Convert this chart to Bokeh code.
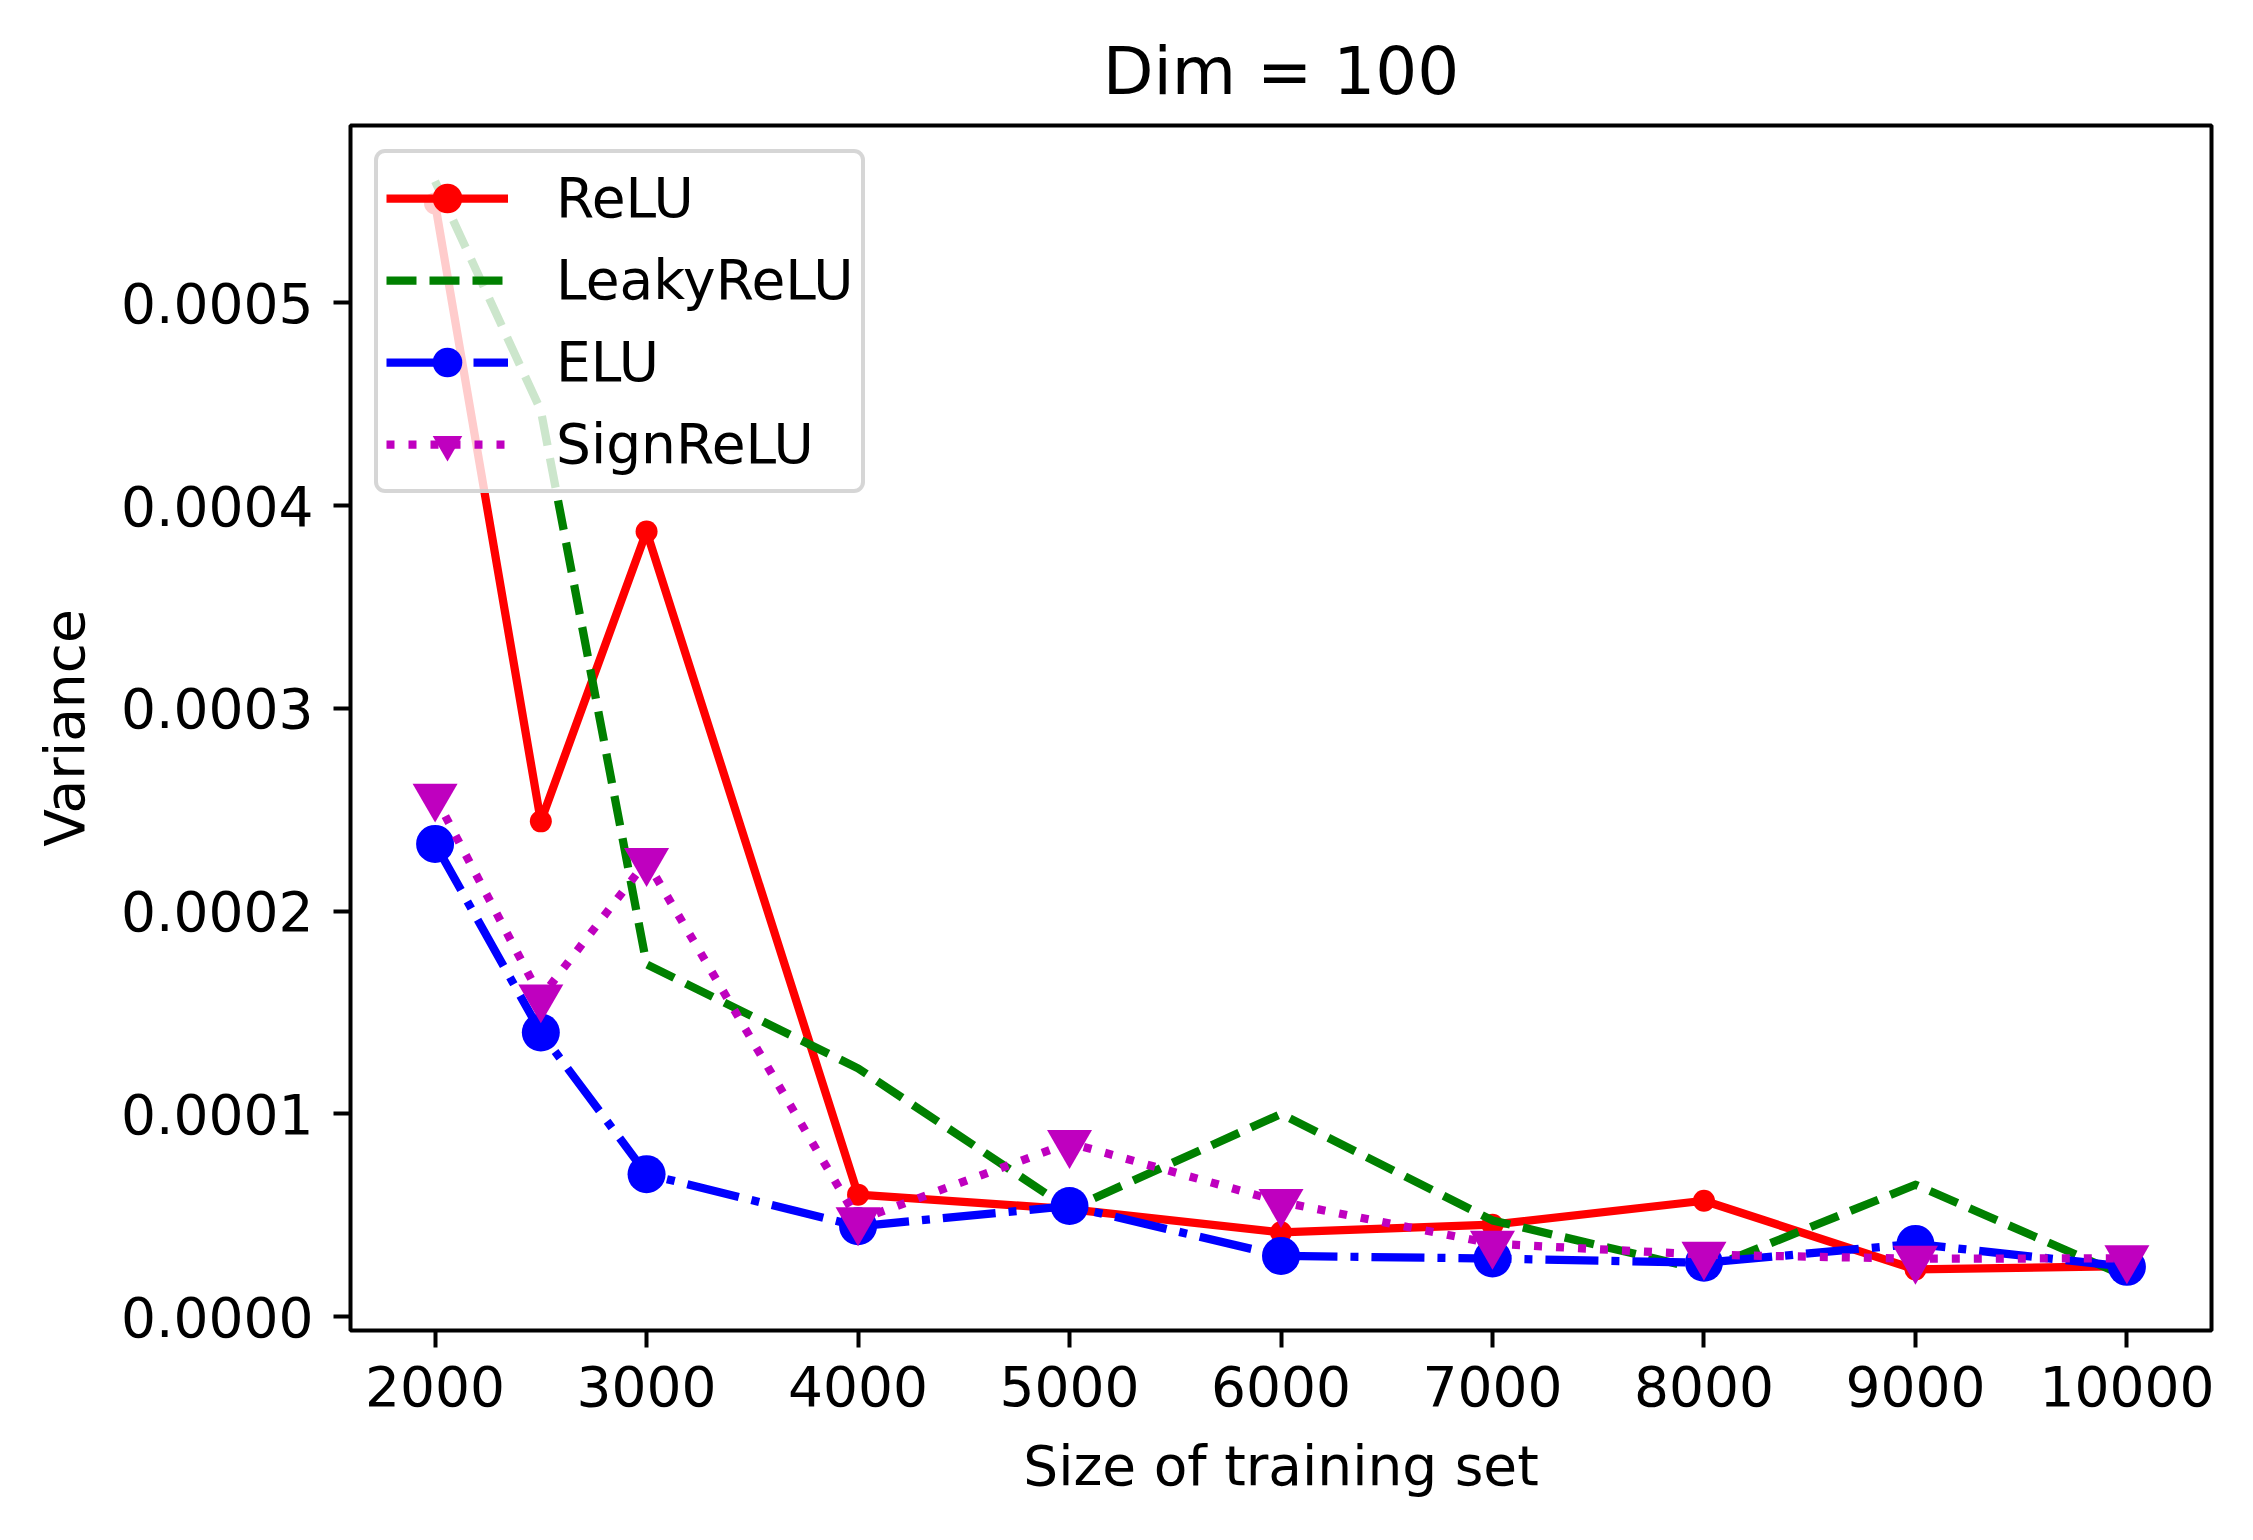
from bokeh.plotting import figure
from bokeh.models import Legend, LegendItem, FixedTicker, PrintfTickFormatter, Range1d
from bokeh.embed import file_html
from bokeh.resources import INLINE

# ---- data ----
sizes = [2000, 2500, 3000, 4000, 5000, 6000, 7000, 8000, 9000, 10000]
relu = [5.49e-4, 2.443e-4, 3.873e-4, 0.602e-4, 0.531e-4, 0.416e-4, 0.454e-4, 0.572e-4, 0.233e-4, 0.249e-4]
leaky = [5.60e-4, 4.47e-4, 1.738e-4, 1.225e-4, 0.53e-4, 1.0e-4, 0.475e-4, 0.23e-4, 0.651e-4, 0.197e-4]
elu = [2.332e-4, 1.402e-4, 0.703e-4, 0.446e-4, 0.546e-4, 0.300e-4, 0.287e-4, 0.266e-4, 0.359e-4, 0.246e-4]
signrelu = [2.565e-4, 1.575e-4, 2.247e-4, 0.476e-4, 0.857e-4, 0.566e-4, 0.360e-4, 0.306e-4, 0.286e-4, 0.288e-4]

x_ticks = [2000, 3000, 4000, 5000, 6000, 7000, 8000, 9000, 10000]
y_ticks = [0.0, 0.0001, 0.0002, 0.0003, 0.0004, 0.0005]

title_text = "Dim = 100"
x_label = "Size of training set"
y_label = "Variance"
names = ["ReLU", "LeakyReLU", "ELU", "SignReLU"]

FONT = "DejaVu Sans"
LW = 8.25
BLACK = "#000000"

p = figure(width=2237, height=1524, output_backend="svg", toolbar_location=None,
           x_range=Range1d(1600, 10400), y_range=Range1d(-0.0000068, 0.0005875),
           min_border_left=350, min_border_right=26, min_border_top=125, min_border_bottom=194)

p.background_fill_color = "white"
p.border_fill_color = "white"
p.grid.visible = False
p.outline_line_color = BLACK
p.outline_line_width = 4
p.outline_line_alpha = 1.0

p.title.text = title_text
p.title.align = "center"
p.title.text_font = FONT
p.title.text_font_size = "66px"
p.title.text_font_style = "normal"
p.title.text_color = BLACK
p.title.standoff = 32

for ax in (p.xaxis[0], p.yaxis[0]):
    ax.axis_line_color = None
    ax.major_tick_out = 17
    ax.major_tick_in = 0
    ax.major_tick_line_width = 4
    ax.major_tick_line_color = BLACK
    ax.minor_tick_line_color = None
    ax.major_label_text_font = FONT
    ax.major_label_text_font_size = "55px"
    ax.major_label_text_color = BLACK
    ax.axis_label_text_font = FONT
    ax.axis_label_text_font_size = "55px"
    ax.axis_label_text_font_style = "normal"
    ax.axis_label_text_color = BLACK

p.xaxis[0].ticker = FixedTicker(ticks=x_ticks)
p.xaxis[0].major_label_standoff = 18
p.xaxis[0].axis_label = x_label
p.xaxis[0].axis_label_standoff = 25

p.yaxis[0].ticker = FixedTicker(ticks=y_ticks)
p.yaxis[0].formatter = PrintfTickFormatter(format="%.4f")
p.yaxis[0].major_label_standoff = 20
p.yaxis[0].axis_label = y_label
p.yaxis[0].axis_label_standoff = 21

r_line = p.line(sizes, relu, line_color="#ff0000", line_width=LW, line_join="round")
r_mark = p.scatter(sizes, relu, marker="circle", size=22, fill_color="#ff0000", line_color=None)
l_line = p.line(sizes, leaky, line_color="#008000", line_width=LW, line_dash="30 13", line_join="round")
e_line = p.line(sizes, elu, line_color="#0000ff", line_width=LW, line_dash="53 13 8 13", line_join="round")
e_mark = p.scatter(sizes, elu, marker="circle", size=38, fill_color="#0000ff", line_color=None)
s_line = p.line(sizes, signrelu, line_color="#bf00bf", line_width=LW, line_dash="8 14", line_join="round")
s_mark = p.scatter(sizes, signrelu, marker="inverted_triangle", size=45, fill_color="#bf00bf", line_color=None)

legend = Legend(items=[
    LegendItem(label=names[0], renderers=[r_line, r_mark]),
    LegendItem(label=names[1], renderers=[l_line]),
    LegendItem(label=names[2], renderers=[e_line, e_mark]),
    LegendItem(label=names[3], renderers=[s_line, s_mark]),
], location="top_left", margin=24, padding=8, spacing=8,
    glyph_width=122, glyph_height=74, label_height=74, label_standoff=48,
    label_text_font=FONT, label_text_font_size="55px", label_text_color=BLACK,
    border_line_color="#cccccc", border_line_alpha=0.8, border_line_width=4.5,
    border_radius=11,
    background_fill_color="white", background_fill_alpha=0.8)
p.add_layout(legend, "center")

open("out.html", "w").write(file_html(p, INLINE))
